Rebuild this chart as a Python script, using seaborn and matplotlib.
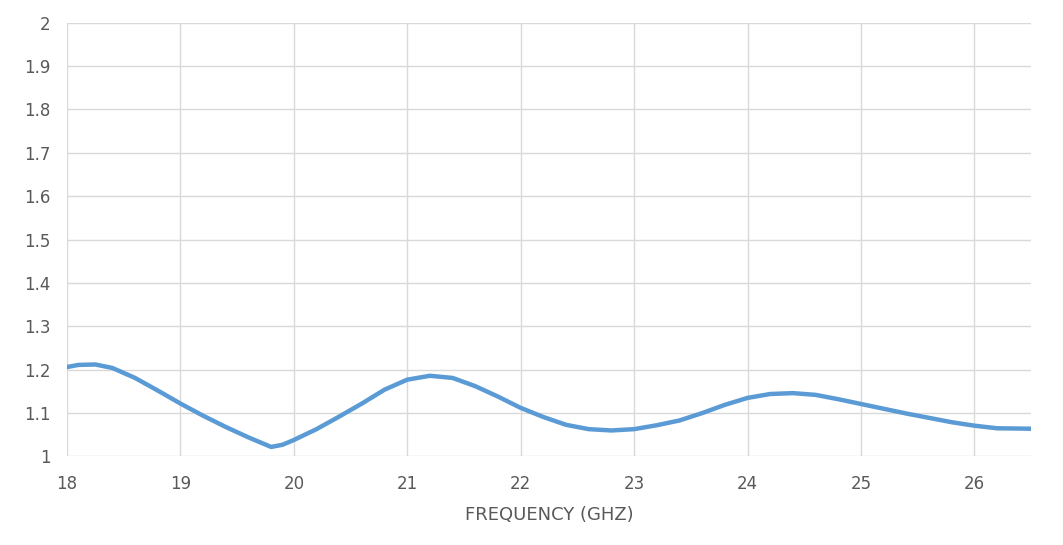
import numpy as np
import pandas as pd
import matplotlib
matplotlib.use("Agg")
import matplotlib.pyplot as plt
import seaborn as sns

# values
freq_ghz = [18.0, 18.1, 18.25, 18.4, 18.6, 18.8, 19.0, 19.2, 19.4, 19.6, 19.8, 19.9,
            20.0, 20.2, 20.4, 20.6, 20.8, 21.0, 21.2, 21.4, 21.6, 21.8, 22.0,
            22.2, 22.4, 22.6, 22.8, 23.0, 23.2, 23.4, 23.6, 23.8, 24.0, 24.2,
            24.4, 24.6, 24.8, 25.0, 25.2, 25.4, 25.6, 25.8, 26.0, 26.2, 26.5]
vswr = [1.206, 1.211, 1.212, 1.204, 1.181, 1.152, 1.122, 1.094, 1.068, 1.044, 1.022, 1.027,
        1.038, 1.063, 1.092, 1.122, 1.154, 1.177, 1.186, 1.181, 1.162, 1.138, 1.112,
        1.091, 1.073, 1.063, 1.060, 1.063, 1.072, 1.083, 1.100, 1.119, 1.135, 1.144,
        1.146, 1.142, 1.132, 1.121, 1.110, 1.099, 1.089, 1.079, 1.071, 1.065, 1.064]
x_ticks = [18, 19, 20, 21, 22, 23, 24, 25, 26]
y_ticks = [1, 1.1, 1.2, 1.3, 1.4, 1.5, 1.6, 1.7, 1.8, 1.9, 2]
y_tick_labels = ["1", "1.1", "1.2", "1.3", "1.4", "1.5", "1.6", "1.7", "1.8", "1.9", "2"]

df = pd.DataFrame({"freq": freq_ghz, "vswr": vswr})

sns.set_style("white")
plt.rcParams["font.family"] = ["DejaVu Sans"]

fig = plt.figure(figsize=(10.63, 5.45), dpi=100)
ax = fig.add_axes([0.063, 0.1624, 0.907, 0.7963])

sns.lineplot(data=df, x="freq", y="vswr", ax=ax, color="#5B9BD5", linewidth=3.2)

ax.set_xlim(18, 26.5)
ax.set_ylim(1, 2)
ax.set_xticks(x_ticks)
ax.set_yticks(y_ticks)
ax.set_yticklabels(y_tick_labels)
ax.grid(True, color="#d9d9d9", linewidth=1)
ax.set_axisbelow(True)
for side in ["top", "right", "left", "bottom"]:
    ax.spines[side].set_visible(False)
ax.tick_params(axis="both", length=0, labelsize=12, labelcolor="#595959")
ax.tick_params(axis="x", pad=13)
ax.tick_params(axis="y", pad=12)
ax.set_xlabel("FREQUENCY (GHZ)", fontsize=13, color="#595959", labelpad=10)
ax.set_ylabel("")

fig.savefig("out.png", dpi=100)
